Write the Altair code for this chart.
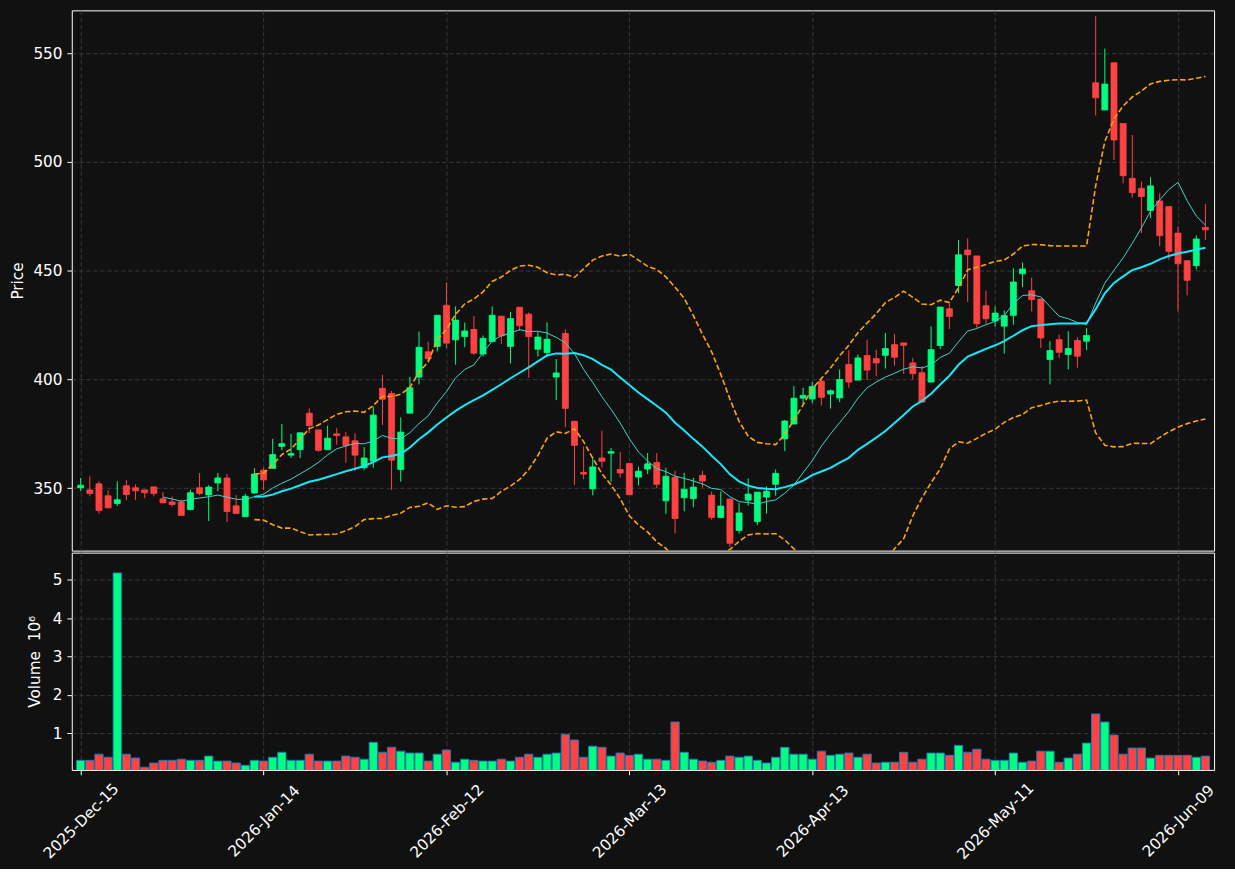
import altair as alt
import pandas as pd

# ---------------- data ----------------
opens = [350.2, 349.2, 352.0, 346.5, 343.0, 351.1, 350.2, 349.2, 350.6, 345.1,
         343.7, 343.7, 340.2, 350.2, 346.9, 352.4, 354.7, 341.9, 336.9, 347.8,
         358.3, 359.1, 369.2, 365.2, 367.7, 384.5, 376.8, 367.7, 375.0, 373.6,
         371.8, 359.4, 362.4, 395.9, 393.6, 358.6, 384.5, 401.1, 412.7, 415.2,
         434.1, 418.2, 419.7, 423.0, 411.7, 417.4, 429.1, 415.2, 433.2, 430.0,
         413.9, 412.4, 401.1, 421.2, 380.8, 357.3, 349.7, 363.9, 366.1, 358.6,
         361.4, 355.1, 358.8, 361.8, 344.2, 355.0, 345.6, 345.2, 355.9, 346.8,
         336.5, 345.0, 330.6, 344.5, 334.7, 345.9, 351.8, 372.7, 379.5, 391.4,
         391.0, 399.2, 393.3, 391.5, 406.9, 399.7, 411.0, 409.6, 411.1, 416.0,
         416.8, 407.6, 403.1, 398.8, 415.6, 432.5, 443.2, 459.5, 456.8, 433.9,
         426.9, 424.5, 429.5, 448.6, 440.8, 437.0, 409.2, 418.3, 411.5, 417.9,
         417.6, 536.4, 523.9, 545.6, 517.7, 492.5, 487.9, 477.7, 482.1, 479.5,
         467.3, 454.6, 452.3, 469.9]
highs = [354.7, 355.5, 353.2, 349.1, 353.2, 353.7, 351.8, 349.3, 350.7, 348.2,
         346.2, 344.7, 349.4, 357.0, 351.4, 357.0, 356.6, 346.8, 347.4, 359.3,
         359.4, 372.7, 379.5, 375.0, 375.5, 386.7, 376.8, 378.8, 377.6, 375.8,
         375.3, 368.9, 387.6, 402.1, 394.7, 382.6, 401.2, 422.0, 417.4, 429.5,
         444.7, 433.6, 426.2, 429.2, 420.2, 433.6, 429.1, 431.1, 433.2, 430.8,
         422.0, 426.2, 409.4, 423.0, 380.8, 369.2, 364.4, 376.5, 368.5, 366.7,
         361.4, 359.8, 366.2, 366.2, 359.4, 358.0, 357.1, 354.8, 358.0, 348.5,
         348.5, 345.0, 343.2, 354.5, 348.2, 350.8, 358.6, 381.4, 397.0, 396.2,
         398.9, 400.0, 395.4, 404.6, 413.4, 411.5, 418.3, 413.7, 421.4, 420.9,
         416.8, 409.9, 406.1, 424.4, 433.3, 434.8, 464.1, 464.9, 456.8, 440.9,
         433.6, 431.7, 451.2, 453.8, 446.9, 437.0, 417.6, 420.6, 422.2, 419.4,
         423.7, 567.0, 552.1, 545.6, 517.7, 512.4, 491.0, 493.0, 485.6, 479.5,
         470.3, 454.6, 466.2, 480.6]
lows = [348.6, 346.3, 338.3, 340.7, 341.8, 344.5, 344.5, 345.4, 346.3, 343.0,
        341.5, 337.5, 339.8, 346.8, 334.9, 348.6, 334.4, 338.4, 336.9, 347.4,
        349.2, 359.1, 367.4, 363.9, 363.9, 375.3, 366.7, 367.7, 370.0, 361.7,
        357.9, 358.3, 359.4, 379.1, 349.2, 353.0, 384.5, 397.7, 408.3, 412.9,
        414.4, 406.8, 414.8, 411.4, 410.6, 417.0, 416.4, 407.3, 422.3, 400.8,
        410.6, 410.3, 390.5, 378.0, 351.5, 354.2, 346.7, 359.4, 353.0, 354.8,
        347.0, 351.2, 356.5, 350.0, 338.2, 329.2, 339.4, 341.2, 350.3, 335.6,
        336.5, 323.0, 329.1, 342.0, 333.0, 338.3, 346.5, 367.0, 379.5, 388.6,
        389.1, 388.0, 386.6, 389.6, 396.2, 399.7, 399.7, 401.5, 405.0, 406.4,
        402.6, 400.0, 389.3, 398.8, 414.0, 423.2, 439.7, 435.6, 423.7, 425.6,
        424.4, 411.8, 425.2, 442.5, 431.3, 414.5, 397.7, 409.9, 404.6, 405.4,
        413.5, 521.4, 523.9, 500.9, 490.2, 483.6, 467.3, 474.2, 461.2, 455.0,
        431.3, 438.7, 450.5, 464.2]
closes = [351.4, 347.6, 339.8, 341.0, 344.7, 347.1, 348.8, 347.9, 347.6, 343.3,
          342.5, 337.5, 347.9, 347.6, 350.5, 354.7, 339.3, 338.4, 346.3, 356.5,
          353.8, 365.5, 370.5, 365.9, 375.5, 378.8, 367.4, 373.0, 374.2, 369.7,
          365.2, 363.9, 383.6, 390.9, 362.9, 375.8, 396.2, 414.8, 409.5, 429.5,
          416.7, 427.3, 422.3, 412.1, 418.9, 429.5, 420.0, 428.0, 424.7, 419.7,
          419.5, 418.5, 403.0, 386.7, 369.7, 356.5, 359.8, 362.4, 366.8, 357.0,
          347.0, 357.8, 361.2, 351.8, 355.5, 336.1, 349.5, 350.5, 353.3, 336.5,
          341.8, 324.7, 338.6, 347.3, 348.2, 348.6, 356.8, 380.9, 391.4, 392.7,
          396.8, 391.8, 394.8, 400.0, 398.8, 409.9, 404.3, 407.6, 414.2, 410.2,
          415.7, 402.7, 389.6, 413.7, 433.3, 429.0, 457.3, 457.3, 425.6, 427.9,
          430.5, 429.4, 444.8, 450.8, 436.7, 419.1, 413.3, 412.5, 414.2, 410.7,
          420.2, 529.5, 535.8, 510.1, 493.7, 485.9, 484.1, 489.0, 466.1, 458.9,
          453.2, 445.6, 464.6, 468.8]
volumes = [0.29, 0.29, 0.45, 0.37, 5.18, 0.45, 0.35, 0.11, 0.22, 0.29,
           0.29, 0.32, 0.29, 0.29, 0.40, 0.27, 0.27, 0.22, 0.16, 0.29,
           0.27, 0.37, 0.50, 0.29, 0.29, 0.45, 0.27, 0.27, 0.27, 0.40,
           0.37, 0.32, 0.76, 0.50, 0.63, 0.53, 0.48, 0.48, 0.27, 0.45,
           0.56, 0.24, 0.32, 0.29, 0.27, 0.27, 0.32, 0.27, 0.37, 0.45,
           0.37, 0.45, 0.48, 0.97, 0.82, 0.37, 0.66, 0.63, 0.40, 0.48,
           0.42, 0.45, 0.32, 0.32, 0.29, 1.29, 0.50, 0.32, 0.27, 0.24,
           0.29, 0.40, 0.37, 0.40, 0.29, 0.22, 0.37, 0.63, 0.45, 0.45,
           0.32, 0.53, 0.42, 0.45, 0.48, 0.37, 0.45, 0.22, 0.24, 0.24,
           0.50, 0.24, 0.32, 0.48, 0.48, 0.42, 0.68, 0.50, 0.58, 0.32,
           0.29, 0.29, 0.48, 0.24, 0.27, 0.53, 0.53, 0.24, 0.35, 0.45,
           0.74, 1.50, 1.29, 0.95, 0.45, 0.61, 0.61, 0.35, 0.42, 0.42,
           0.42, 0.42, 0.37, 0.40]
tick_index = [0, 20, 40, 60, 80, 100, 120]
tick_labels = ["2025-Dec-15", "2026-Jan-14", "2026-Feb-12", "2026-Mar-13",
               "2026-Apr-13", "2026-May-11", "2026-Jun-09"]
price_ticks = [350, 400, 450, 500, 550]
volume_ticks = [1, 2, 3, 4, 5]

df = pd.DataFrame({
    "idx": list(range(len(closes))),
    "open": opens, "high": highs, "low": lows, "close": closes,
    "volume": volumes,
})

# ---------------- style ----------------
BG = "#111111"
UP = "#00ff80"
DOWN = "#ff4242"
GRID = "#3c3c3c"
FONT = "DejaVu Sans"
FS = 15.3

xscale = alt.Scale(domain=[-0.43, 123.4], nice=False, zero=False)
price_scale = alt.Scale(domain=[321.3, 569.7], nice=False, zero=False)
vol_scale = alt.Scale(domain=[0.04, 5.71], nice=False, zero=False)

color = alt.condition("datum.close >= datum.open", alt.value(UP), alt.value(DOWN))

common_axis = dict(grid=True, gridColor=GRID, gridDash=[4.5, 2.5], gridWidth=0.9,
                   domain=False, tickColor="white", tickSize=4.9, tickWidth=1,
                   labelColor="white", labelFont=FONT, labelFontSize=FS,
                   titleColor="white", titleFont=FONT, titleFontSize=FS,
                   titleFontWeight="normal")

x_top_axis = alt.Axis(values=tick_index, labels=False, ticks=False, title=None,
                      grid=True, gridColor=GRID, gridDash=[4.5, 2.5], gridWidth=0.9,
                      domain=False)

label_expr = " : ".join(
    f"datum.value == {i} ? '{l}'" for i, l in zip(tick_index, tick_labels)
) + " : ''"

x_bot_axis = alt.Axis(values=tick_index, labelExpr=label_expr, labelAngle=315,
                      labelAlign="center", labelBaseline="middle", labelPadding=46,
                      title=None, **common_axis)

price_axis = alt.Axis(values=price_ticks, title="Price", titleX=-54, titleY=271,
                      titleAlign="center", titleBaseline="middle", titleAngle=270,
                      labelPadding=4.9, **common_axis)

vol_axis = alt.Axis(values=volume_ticks, title="Volume\u00a0\u00a010\u2076",
                    titleX=-37.5, titleY=109, titleAlign="center",
                    titleBaseline="middle", titleAngle=270, labelPadding=4.9,
                    **common_axis)

base = alt.Chart(df)

# ---------------- price panel ----------------
wicks = base.mark_rule(strokeWidth=1, clip=True).encode(
    x=alt.X("idx:Q", scale=xscale, axis=x_top_axis),
    y=alt.Y("low:Q", scale=price_scale, axis=price_axis),
    y2="high:Q",
    color=color,
)

bodies = base.mark_bar(size=6, strokeWidth=0.8, clip=True).encode(
    x=alt.X("idx:Q", scale=xscale),
    y=alt.Y("open:Q", scale=price_scale),
    y2="close:Q",
    color=color,
    stroke=color,
)

ma10 = base.transform_window(
    ma10="mean(close)", frame=[-9, 0], sort=[alt.SortField("idx")]
).transform_filter("datum.idx >= 9").mark_line(
    color="#3fd3cb", strokeWidth=1, clip=True
).encode(x=alt.X("idx:Q", scale=xscale), y=alt.Y("ma10:Q", scale=price_scale))

bb = base.transform_window(
    ma20="mean(close)", sd20="stdev(close)", frame=[-19, 0],
    sort=[alt.SortField("idx")]
).transform_filter("datum.idx >= 19").transform_calculate(
    bb_up="datum.ma20 + 2 * datum.sd20",
    bb_lo="datum.ma20 - 2 * datum.sd20",
)

ma20 = bb.mark_line(color="#17e8f8", strokeWidth=2, clip=True).encode(
    x=alt.X("idx:Q", scale=xscale), y=alt.Y("ma20:Q", scale=price_scale))
bb_up = bb.mark_line(color="#ffa500", strokeWidth=1.6, strokeDash=[5.5, 2.6],
                     clip=True).encode(
    x=alt.X("idx:Q", scale=xscale), y=alt.Y("bb_up:Q", scale=price_scale))
bb_lo = bb.mark_line(color="#ffa500", strokeWidth=1.6, strokeDash=[5.5, 2.6],
                     clip=True).encode(
    x=alt.X("idx:Q", scale=xscale), y=alt.Y("bb_lo:Q", scale=price_scale))

top = alt.layer(wicks, bodies, ma10, ma20, bb_up, bb_lo).properties(
    width=1146, height=542)

# ---------------- volume panel ----------------
vol = base.transform_calculate(vbase="0").mark_bar(
    size=8.3, stroke="#1f77b4", strokeWidth=1, clip=True
).encode(
    x=alt.X("idx:Q", scale=xscale, axis=x_bot_axis),
    y=alt.Y("volume:Q", scale=vol_scale, axis=vol_axis),
    y2="vbase:Q",
    color=color,
)

bottom = vol.properties(width=1146, height=218)

chart = alt.vconcat(top, bottom, spacing=0).properties(
    padding={"left": 10, "top": 8, "right": 17, "bottom": 5}
).configure(background=BG).configure_view(stroke="white", strokeWidth=1)

chart.save("out.html", embed_options={"renderer": "svg", "actions": False})
